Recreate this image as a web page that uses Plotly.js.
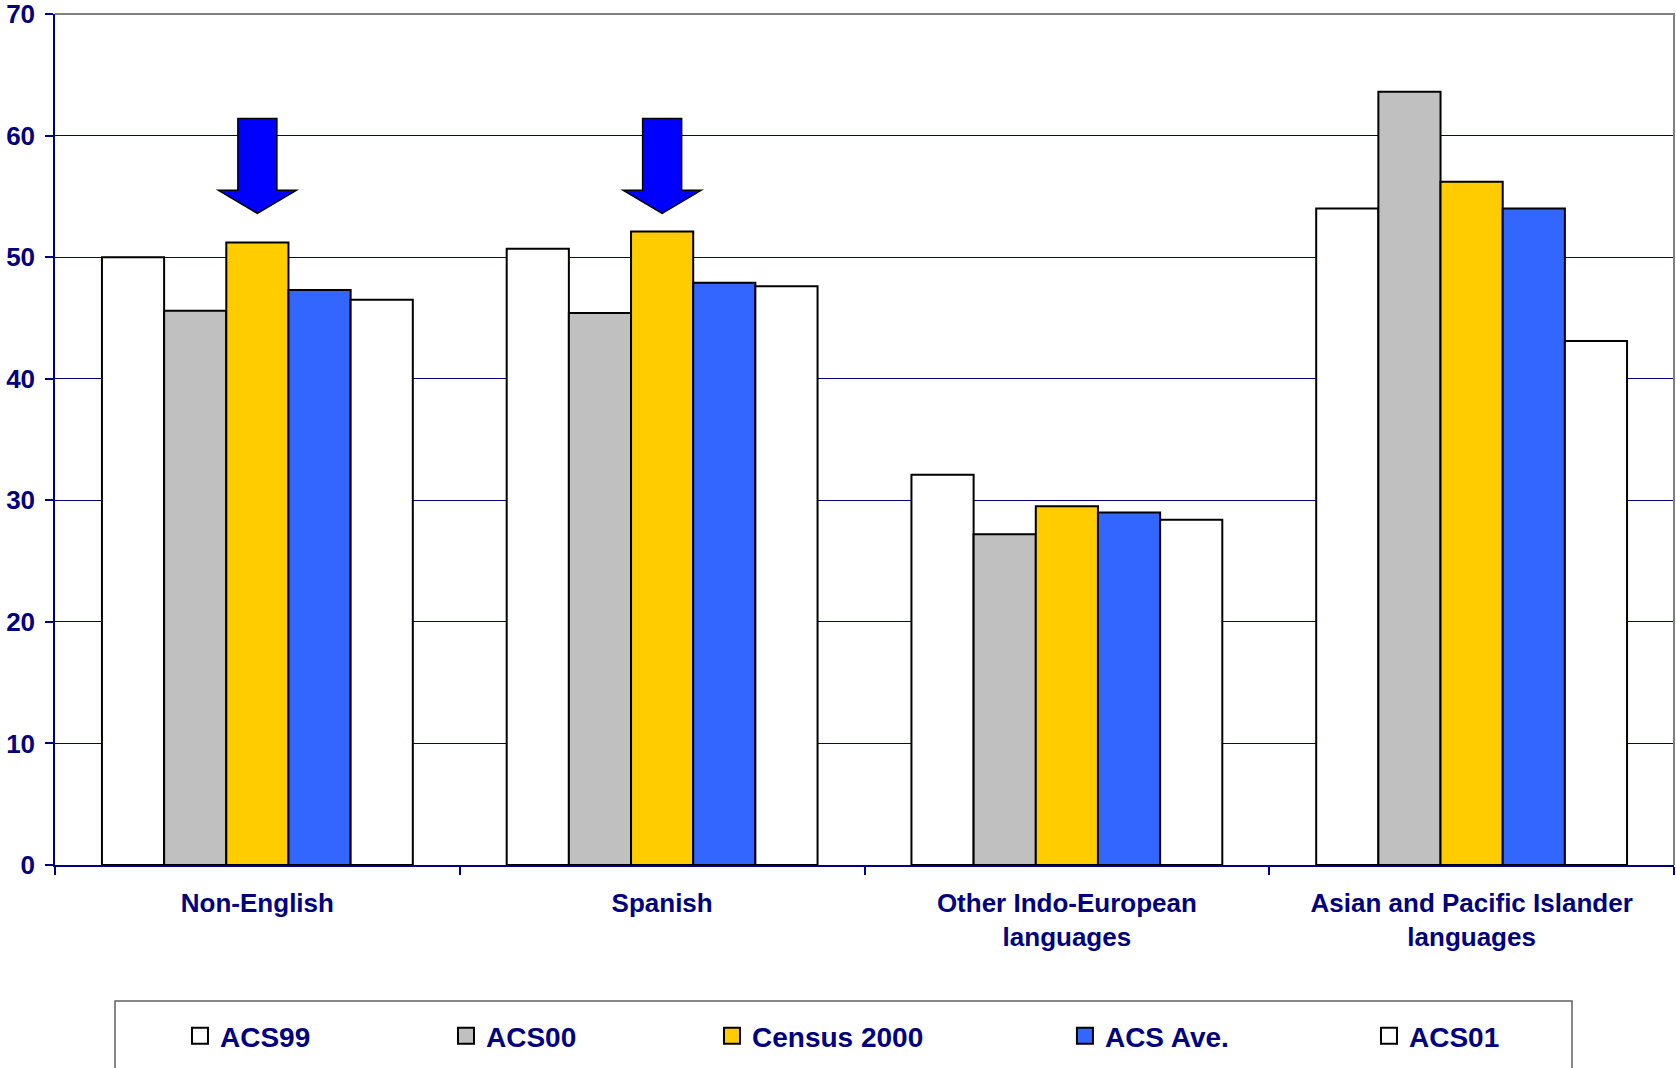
<!DOCTYPE html>
<html>
<head>
<meta charset="utf-8">
<script src="https://cdn.plot.ly/plotly-3.0.1.min.js"></script>
<style>html,body{margin:0;padding:0;background:#fff;}#chart{width:1676px;height:1068px;}</style>
</head>
<body>
<div id="chart"></div>
<script>
// ---- Data ----
const categories = ['Non-English', 'Spanish', 'Other Indo-European languages', 'Asian and Pacific Islander languages'];
const tickLabels = ['Non-English', 'Spanish', 'Other Indo-European<br>languages', 'Asian and Pacific Islander<br>languages'];
const seriesNames = ['ACS99', 'ACS00', 'Census 2000', 'ACS Ave.', 'ACS01'];
const acs99 = [50.0, 50.7, 32.1, 54.0];
const acs00 = [45.6, 45.4, 27.2, 63.6];
const census2000 = [51.2, 52.1, 29.5, 56.2];
const acsAve = [47.3, 47.9, 29.0, 54.0];
const acs01 = [46.5, 47.6, 28.4, 43.1];
const yTicks = [0, 10, 20, 30, 40, 50, 60, 70];

// ---- Styling ----
const seriesValues = [acs99, acs00, census2000, acsAve, acs01];
const colors = ['#FFFFFF', '#C0C0C0', '#FFCC00', '#3366FF', '#FFFFFF'];
const navy = '#000080';
const fontFam = '"Liberation Sans", Arial, sans-serif';
const legendX = [0.0772, 0.2415, 0.4058, 0.6238, 0.8116];
const legendIds = ['legend', 'legend2', 'legend3', 'legend4', 'legend5'];

const barTraces = seriesNames.map((name, i) => ({
  type: 'bar',
  name: name,
  x: categories,
  y: seriesValues[i],
  legendgroup: 'g' + i,
  showlegend: false,
  marker: {color: colors[i], line: {color: '#000000', width: 2}},
  hoverinfo: 'name+y'
}));

// legend keys (square swatches matching each bar series)
const legendTraces = seriesNames.map((name, i) => ({
  type: 'scatter', mode: 'markers',
  name: name,
  x: [null], y: [null],
  legendgroup: 'g' + i,
  legend: legendIds[i],
  showlegend: true,
  marker: {symbol: 'square', size: 16, color: colors[i], line: {color: '#000000', width: 2}},
  hoverinfo: 'skip'
}));

const layout = {
  width: 1676, height: 1068,
  margin: {l: 55, r: 2, t: 14, b: 203, autoexpand: false},
  paper_bgcolor: '#FFFFFF', plot_bgcolor: '#FFFFFF',
  font: {family: fontFam, color: navy, weight: 'bold'},
  barmode: 'group', bargap: 0.232, bargroupgap: 0,
  xaxis: {
    type: 'category',
    tickvals: categories, ticktext: tickLabels,
    tickson: 'boundaries',
    ticks: 'outside', ticklen: 8, tickwidth: 1.5, tickcolor: navy,
    showline: true, linecolor: navy, linewidth: 2,
    showgrid: false, zeroline: false,
    tickfont: {family: fontFam, size: 26, color: navy, weight: 'bold'},
    ticklabelstandoff: 14,
    fixedrange: true
  },
  yaxis: {
    range: [0, 70], tickvals: yTicks,
    ticks: 'outside', ticklen: 8, tickwidth: 1.5, tickcolor: navy,
    showline: true, linecolor: navy, linewidth: 1.5,
    showgrid: true, gridcolor: navy, gridwidth: 1,
    zeroline: false,
    tickfont: {family: fontFam, size: 26, color: navy, weight: 'bold'},
    ticklabelstandoff: 5,
    ticklabeloverflow: 'allow',
    fixedrange: true
  },
  showlegend: true,
  shapes: [
    // plot-area border (top & right)
    {type: 'path', xref: 'paper', yref: 'paper', path: 'M0,1 L1,1 L1,0', line: {color: '#808080', width: 2}, layer: 'above'},
    // legend box
    {type: 'rect', xref: 'paper', yref: 'paper', x0: 0.03706, x1: 0.937, y0: -0.1598, y1: -0.40, line: {color: '#606060', width: 1.5}, fillcolor: 'rgba(0,0,0,0)', layer: 'above'},
    // arrows over Census 2000 bars
    {type: 'path', xref: 'x', yref: 'y', xsizemode: 'pixel', xanchor: categories[0],
     path: 'M-19.5,61.4 L19.5,61.4 L19.5,55.5 L39,55.5 L0,53.6 L-39,55.5 L-19.5,55.5 Z',
     fillcolor: '#0000FF', line: {color: '#000000', width: 1.5}, layer: 'above'},
    {type: 'path', xref: 'x', yref: 'y', xsizemode: 'pixel', xanchor: categories[1],
     path: 'M-19.5,61.4 L19.5,61.4 L19.5,55.5 L39,55.5 L0,53.6 L-39,55.5 L-19.5,55.5 Z',
     fillcolor: '#0000FF', line: {color: '#000000', width: 1.5}, layer: 'above'}
  ]
};

legendIds.forEach((id, i) => {
  layout[id] = {
    x: legendX[i], y: -0.2009, xanchor: 'left', yanchor: 'middle',
    orientation: 'h', bgcolor: 'rgba(0,0,0,0)', borderwidth: 0,
    font: {family: fontFam, size: 28, color: navy, weight: 'bold'},
    itemclick: false, itemdoubleclick: false
  };
});

Plotly.newPlot('chart', barTraces.concat(legendTraces), layout, {displayModeBar: false, responsive: false});
</script>
</body>
</html>
